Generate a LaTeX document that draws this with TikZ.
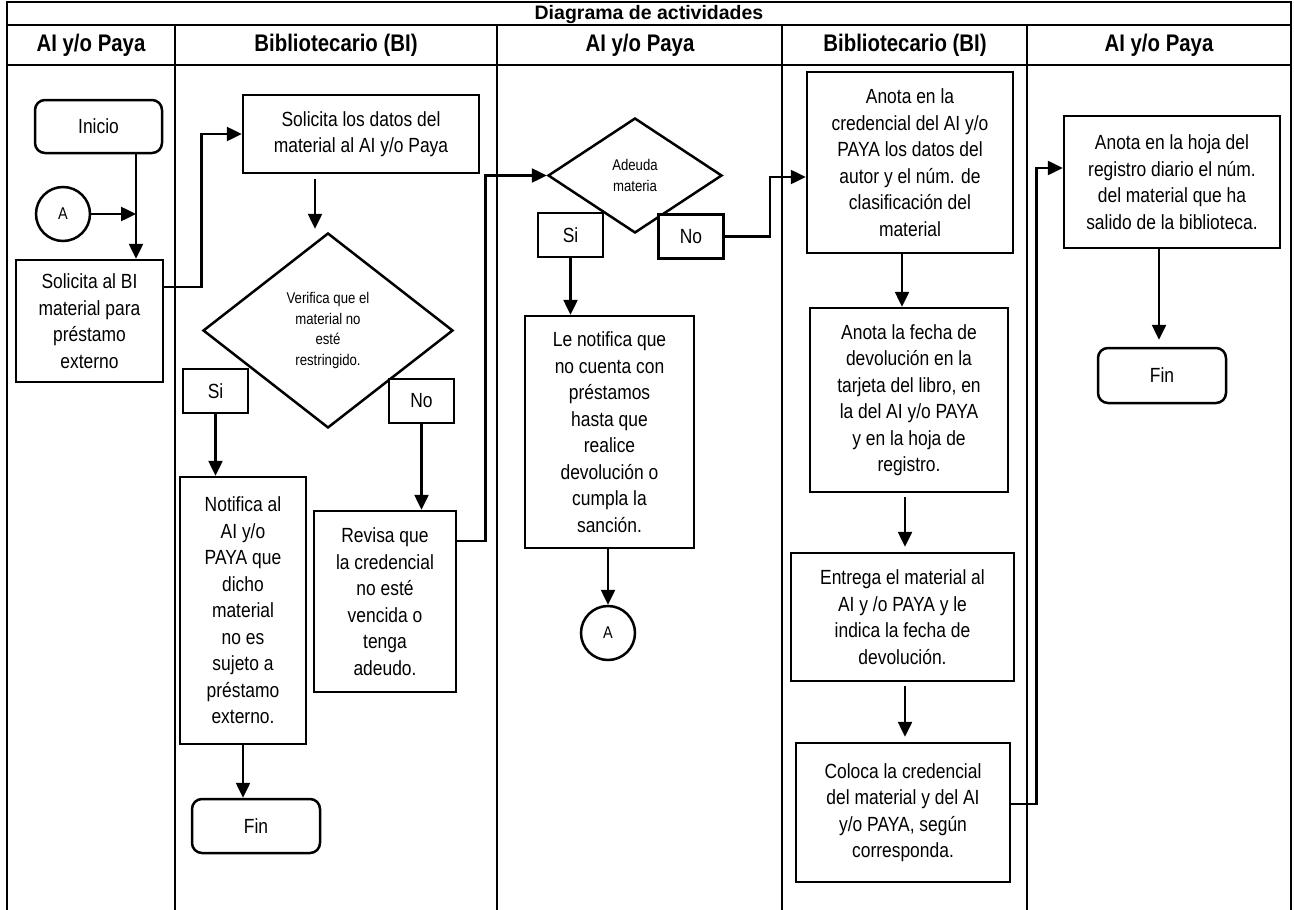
\documentclass[tikz,border=0pt]{standalone}
\usepackage{fontspec}
\setmainfont{Liberation Sans}[FakeStretch=0.85]
\newfontfamily\titlefont{Liberation Sans}
\usetikzlibrary{arrows.meta,shapes.geometric}

\begin{document}
\begin{tikzpicture}[x=1pt,y=-1pt,
  lw/.style={line width=2.5pt},
  body/.style={font=\fontsize{20.5}{26.5}\selectfont},
  small/.style={font=\fontsize{15.5}{20.5}\selectfont},
  head/.style={font=\fontsize{24}{28}\selectfont\bfseries},
  stepbox/.style={draw, lw, fill=white, align=center, inner sep=0pt, body},
  term/.style={stepbox, rounded corners=10pt},
  answer/.style={stepbox, minimum width=65pt, minimum height=44pt},
  decision/.style={diamond, draw, lw, fill=white, align=center, inner sep=0pt, small},
  connector/.style={circle, draw, lw, fill=white, inner sep=0pt, minimum size=54pt,
                    font=\fontsize{17}{20}\selectfont},
  arr/.style={lw, -{Triangle[length=15pt,width=14pt]}},
  rule/.style={line width=2.5pt},
]
\useasboundingbox (0,0) rectangle (1294,910);

% swimlane frame
\draw[rule] (7,910) -- (7,2) -- (1291,2) -- (1291,910);
\draw[rule] (7,25) -- (1291,25);
\draw[rule] (7,65) -- (1291,65);
\foreach \xx in {175,497,782,1027} \draw[rule] (\xx,25) -- (\xx,910);

\node[font=\titlefont\fontsize{19.5}{22}\selectfont\bfseries] (title) at (649,14.5) {Diagrama de actividades};
\node[head] (h1) at (91,45) {AI y/o Paya};
\node[head] (h2) at (336,45) {Bibliotecario (BI)};
\node[head] (h3) at (640,45) {AI y/o Paya};
\node[head] (h4) at (905,45) {Bibliotecario (BI)};
\node[head] (h5) at (1159,45) {AI y/o Paya};

% lane 1
\node[term, minimum width=127pt, minimum height=53pt] (inicio) at (98.5,126.5) {Inicio};
\node[connector] (conA1) at (63,214) {A};
\node[stepbox, minimum width=147pt, minimum height=122pt] (sol1) at (89.5,321)
  {Solicita al BI\\material para\\préstamo\\externo};
\coordinate (jx) at (136,214);

% lane 2
\node[stepbox, minimum width=236pt, minimum height=78pt] (datos) at (361,134)
  {Solicita los datos del\\material al AI y/o Paya};
\node[decision, minimum width=250pt, minimum height=195pt] (verifica) at (328,330.5)
  {Verifica que el\\material no\\esté\\restringido.};
\node[answer] (si1) at (215.5,391) {Si};
\node[answer] (no1) at (421.5,401) {No};
\node[stepbox, minimum width=126pt, minimum height=267pt] (notifica) at (243,610.5)
  {Notifica al\\AI y/o\\PAYA que\\dicho\\material\\no es\\sujeto a\\préstamo\\externo.};
\node[term, minimum width=128pt, minimum height=54pt] (fin1) at (256,826) {Fin};
\node[stepbox, minimum width=142pt, minimum height=181pt] (revisa) at (385,601.5)
  {Revisa que\\la credencial\\no esté\\vencida o\\tenga\\adeudo.};

% lane 3
\node[decision, minimum width=174pt, minimum height=115pt] (adeuda) at (635,175.5)
  {Adeuda\\materia};
\node[answer] (si2) at (570.5,235) {Si};
\node[answer] (no2) at (691,236.5) {No};
\node[stepbox, minimum width=169pt, minimum height=232pt] (lenot) at (609.5,432)
  {Le notifica que\\no cuenta con\\préstamos\\hasta que\\realice\\devolución o\\cumpla la\\sanción.};
\node[connector] (conA2) at (608,633) {A};

% lane 4
\node[stepbox, minimum width=206pt, minimum height=181pt] (anota1) at (910,162.5)
  {Anota en la\\credencial del AI y/o\\PAYA los datos del\\autor y el núm. de\\clasificación del\\material};
\node[stepbox, minimum width=198pt, minimum height=184pt] (anota2) at (909,400)
  {Anota la fecha de\\devolución en la\\tarjeta del libro, en\\la del AI y/o PAYA\\y en la hoja de\\registro.};
\node[stepbox, minimum width=223pt, minimum height=128pt] (entrega) at (902.5,617)
  {Entrega el material al\\AI y /o PAYA y le\\indica la fecha de\\devolución.};
\node[stepbox, minimum width=214pt, minimum height=139pt] (coloca) at (903,812.5)
  {Coloca la credencial\\del material y del AI\\y/o PAYA, según\\corresponda.};

% lane 5
\node[stepbox, minimum width=216pt, minimum height=132pt] (anota3) at (1172,182)
  {Anota en la hoja del\\registro diario el núm.\\del material que ha\\salido de la biblioteca.};
\node[term, minimum width=128pt, minimum height=55pt] (fin2) at (1162,375.5) {Fin};

% connectors
\draw[lw] (inicio.south -| jx) -- (jx);
\draw[arr] (jx) -- (sol1.north -| jx);
\draw[arr] (conA1.east) -- (jx);
\draw[arr] ([yshift=34pt]sol1.east) -- ++(37,0) |- (datos.west);
\draw[arr] ([xshift=-46pt,yshift=-5pt]datos.south) -- ([xshift=-13pt,yshift=3pt]verifica.north);
\draw[arr] (si1.south) -- (si1.south |- notifica.north);
\draw[arr] (no1.south) -- (no1.south |- revisa.north);
\draw[arr] (notifica.south) -- (notifica.south |- fin1.north);
\draw[arr] ([yshift=60.5pt]revisa.east) -- ++(28,0) |- (adeuda.west);
\draw[arr] (si2.south) -- (si2.south |- lenot.north);
\draw[arr] (lenot.south -| conA2) -- (conA2.north);
\draw[arr] (no2.east) -- ++(45,0) |- ([yshift=-14.5pt]anota1.west);
\draw[arr] ([xshift=-8pt]anota1.south) -- ([xshift=-8pt]anota1.south |- anota2.north);
\draw[arr, shorten <=4pt, shorten >=5pt] ([xshift=-4pt]anota2.south) -- ([xshift=-4pt]anota2.south |- entrega.north);
\draw[arr, shorten <=4pt, shorten >=5pt] ([xshift=2.5pt]entrega.south) -- ([xshift=2.5pt]entrega.south |- coloca.north);
\draw[arr] ([yshift=8.5pt]coloca.east) -- ++(25,0) |- ([yshift=14pt]anota3.west);
\draw[arr, shorten >=7pt] ([xshift=-13pt]anota3.south) -- ([xshift=-13pt]anota3.south |- fin2.north);
\end{tikzpicture}
\end{document}
